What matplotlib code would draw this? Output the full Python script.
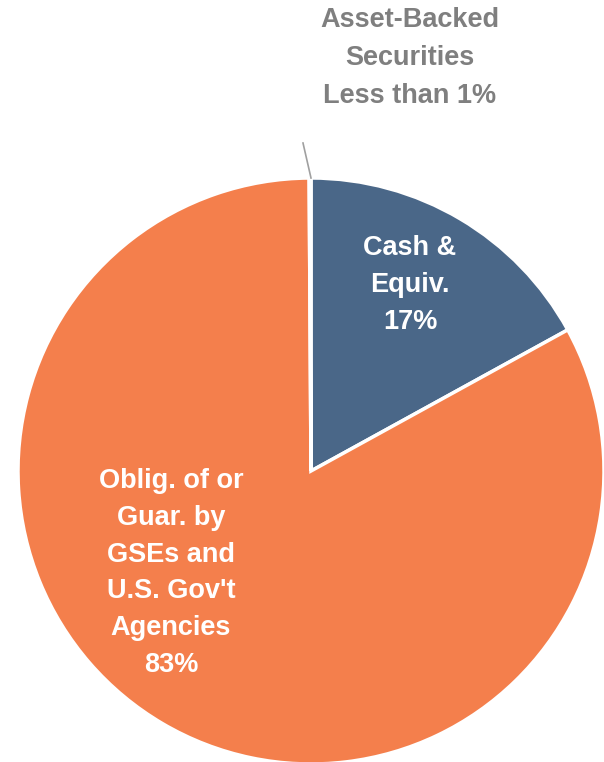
import matplotlib
matplotlib.use("Agg")
import matplotlib.pyplot as plt
from matplotlib import font_manager

categories = ["Cash & Equiv.", "Oblig. of or Guar. by GSEs and U.S. Gov't Agencies", "Asset-Backed Securities"]
values = [17.0, 82.9, 0.1]
labels = ["Cash &\nEquiv.\n17%",
          "Oblig. of or\nGuar. by\nGSEs and\nU.S. Gov't\nAgencies\n83%",
          "Asset-Backed\nSecurities\nLess than 1%"]
colors = ["#4A6788", "#F47F4C", "#A5A5A5"]

names = {f.name for f in font_manager.fontManager.ttflist}
fam = "Liberation Sans Narrow" if "Liberation Sans Narrow" in names else "Liberation Sans"

W, H = 604, 762
fig = plt.figure(figsize=(W / 100, H / 100), dpi=100)
ax = fig.add_axes([0, 0, 1, 1])

cx, cy, r = 311, H - 471, 293
wedges, _ = ax.pie(values, colors=colors, startangle=90, counterclock=False,
                   center=(cx, cy), radius=r, frame=True,
                   wedgeprops=dict(edgecolor="white", linewidth=2.5))
ax.set_xlim(0, W)
ax.set_ylim(0, H)
ax.set_aspect("equal")
ax.axis("off")

ax.text(410, H - 285, labels[0], color="white", fontsize=19.5, fontweight="bold",
        family=fam, ha="center", va="center", linespacing=1.55)
ax.text(171, H - 573, labels[1], color="white", fontsize=19.5, fontweight="bold",
        family=fam, ha="center", va="center", linespacing=1.53)
ax.text(410, H - 58, labels[2], color="#7F7F7F", fontsize=19.5, fontweight="bold",
        family=fam, ha="center", va="center", linespacing=1.60)
ax.plot([303, 311], [H - 143, H - 178], color="#A0A0A0", linewidth=1.2)

fig.savefig("out.png", dpi=100)
